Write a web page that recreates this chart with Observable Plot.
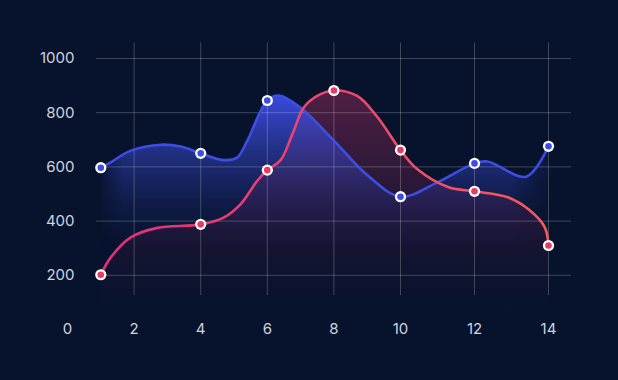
<!DOCTYPE html>
<html>
<head>
<meta charset="utf-8">
<script src="https://cdn.jsdelivr.net/npm/d3@7"></script>
<script src="https://cdn.jsdelivr.net/npm/@observablehq/plot@0.6"></script>
<style>
  html, body { margin: 0; padding: 0; background: #07132d; }
  #chart { width: 618px; height: 380px; }
</style>
</head>
<body>
<div id="chart"></div>
<script>
// Tick labels
const xTicks = [0, 2, 4, 6, 8, 10, 12, 14];
const yTicks = [200, 400, 600, 800, 1000];
const xGrid = [2, 4, 6, 8, 10, 12, 14];

const blueCurveX = [1, 1.3, 1.9, 2.8, 3.4, 4, 4.7, 5.1, 5.4, 6, 6.35, 7, 8, 9, 10, 11, 12, 12.35, 13.4, 14];
const blueCurveY = [597, 617, 660, 682, 675, 650, 625, 635, 697, 845, 863, 818, 697, 570, 490, 543, 613, 620, 564, 676];
const blueMarkX = [1, 4, 6, 10, 12, 14];
const blueMarkY = [597, 650, 845, 490, 613, 676];

// Red series
const redCurveX = [1, 1.3, 1.9, 2.7, 4, 4.7, 5.2, 5.7, 6, 6.4, 6.75, 7.1, 7.5, 8, 8.7, 9.3, 10, 10.45, 11.3, 12, 12.9, 13.5, 13.9, 14];
const redCurveY = [202, 266, 340, 375, 388, 414, 463, 549, 588, 625, 720, 820, 862, 882, 862, 785, 662, 592, 525, 510, 488, 439, 377, 310];
const redMarkX = [1, 4, 6, 8, 10, 12, 14];
const redMarkY = [202, 388, 588, 882, 662, 510, 310];

const zip = (xs, ys) => xs.map((x, i) => ({x, y: ys[i]}));
const blueCurve = zip(blueCurveX, blueCurveY);
const redCurve = zip(redCurveX, redCurveY);
const blueMarks = zip(blueMarkX, blueMarkY);
const redMarks = zip(redMarkX, redMarkY);

const font = "Inter, 'Noto Sans', sans-serif";

const chart = Plot.plot({
  width: 618,
  height: 380,
  margin: 0,
  style: {background: "#07132d", fontFamily: font, overflow: "visible"},
  x: {type: "linear", domain: [0, 10, 14], range: [67, 400, 548], axis: null},
  y: {domain: [0, 1000], range: [329, 58], axis: null},
  marks: [
    // areas (red first, blue second)
    Plot.areaY(redCurve, {x: "x", y1: 0, y2: "y", curve: "catmull-rom", fill: "url(#redFill)"}),
    Plot.areaY(blueCurve, {x: "x", y1: 0, y2: "y", curve: "catmull-rom", fill: "url(#blueFill)"}),
    // grid
    Plot.ruleX(xGrid, {x: d => d, y1: 125, y2: 1058, stroke: "#ffffff", strokeOpacity: 0.22, strokeWidth: 1}),
    Plot.ruleY(yTicks, {y: d => d, x1: 0.87, x2: 14.62, stroke: "#ffffff", strokeOpacity: 0.22, strokeWidth: 1}),
    // lines
    Plot.line(blueCurve, {x: "x", y: "y", curve: "catmull-rom", stroke: "#3d4ee3", strokeWidth: 2.6}),
    Plot.line(redCurve, {x: "x", y: "y", curve: "catmull-rom", stroke: "url(#redStroke)", strokeWidth: 2.6}),
    // markers
    Plot.dot(blueMarks, {x: "x", y: "y", r: 5.6, fill: "#ffffff", stroke: "none"}),
    Plot.dot(blueMarks, {x: "x", y: "y", r: 3.3, fill: "#3a4de6", stroke: "none"}),
    Plot.dot(redMarks, {x: "x", y: "y", r: 5.6, fill: "#ffffff", stroke: "none"}),
    Plot.dot(redMarks, {x: "x", y: "y", r: 3.3, fill: "#ea3a62", stroke: "none"}),
    // tick labels
    Plot.text(yTicks, {x: 0, y: d => d, text: d => String(d), dx: 7, textAnchor: "end", fill: "#d0d4de", fontSize: 15, fontFamily: font}),
    Plot.text(xTicks, {x: d => d, y: 0, text: d => String(d), textAnchor: "middle", fill: "#d0d4de", fontSize: 15, fontFamily: font})
  ]
});

const svg = d3.select(chart);
const defs = svg.insert("defs", ":first-child");

const blueFill = defs.append("linearGradient").attr("id", "blueFill")
  .attr("gradientUnits", "userSpaceOnUse").attr("x1", 0).attr("y1", 95).attr("x2", 0).attr("y2", 250);
blueFill.append("stop").attr("offset", 0).attr("stop-color", "#3d4ee8").attr("stop-opacity", 0.95);
blueFill.append("stop").attr("offset", 0.45).attr("stop-color", "#3342b8").attr("stop-opacity", 0.5);
blueFill.append("stop").attr("offset", 1).attr("stop-color", "#1c2466").attr("stop-opacity", 0);

const redFill = defs.append("linearGradient").attr("id", "redFill")
  .attr("gradientUnits", "userSpaceOnUse").attr("x1", 0).attr("y1", 90).attr("x2", 0).attr("y2", 310);
redFill.append("stop").attr("offset", 0).attr("stop-color", "#8a2a55").attr("stop-opacity", 0.55);
redFill.append("stop").attr("offset", 0.6).attr("stop-color", "#5a1d48").attr("stop-opacity", 0.3);
redFill.append("stop").attr("offset", 1).attr("stop-color", "#2a1238").attr("stop-opacity", 0);

const redStroke = defs.append("linearGradient").attr("id", "redStroke")
  .attr("gradientUnits", "userSpaceOnUse").attr("x1", 100).attr("y1", 0).attr("x2", 550).attr("y2", 0);
redStroke.append("stop").attr("offset", 0).attr("stop-color", "#df2f78");
redStroke.append("stop").attr("offset", 0.45).attr("stop-color", "#ec4470");
redStroke.append("stop").attr("offset", 1).attr("stop-color", "#f35a5c");

const fade = defs.append("linearGradient").attr("id", "hfade")
  .attr("gradientUnits", "userSpaceOnUse").attr("x1", 96).attr("y1", 0).attr("x2", 556).attr("y2", 0);
fade.append("stop").attr("offset", 0).attr("stop-color", "#fff").attr("stop-opacity", 0);
fade.append("stop").attr("offset", 0.06).attr("stop-color", "#fff").attr("stop-opacity", 1);
fade.append("stop").attr("offset", 0.9).attr("stop-color", "#fff").attr("stop-opacity", 1);
fade.append("stop").attr("offset", 1).attr("stop-color", "#fff").attr("stop-opacity", 0);
defs.append("mask").attr("id", "hmask").attr("maskUnits", "userSpaceOnUse")
  .attr("x", 0).attr("y", 0).attr("width", 618).attr("height", 380)
  .append("rect").attr("x", 0).attr("y", 0).attr("width", 618).attr("height", 380).attr("fill", "url(#hfade)");

const areas = svg.selectAll('g[aria-label="area"]').nodes();
if (areas[1]) d3.select(areas[1]).attr("mask", "url(#hmask)");

document.getElementById("chart").appendChild(chart);
</script>
</body>
</html>
